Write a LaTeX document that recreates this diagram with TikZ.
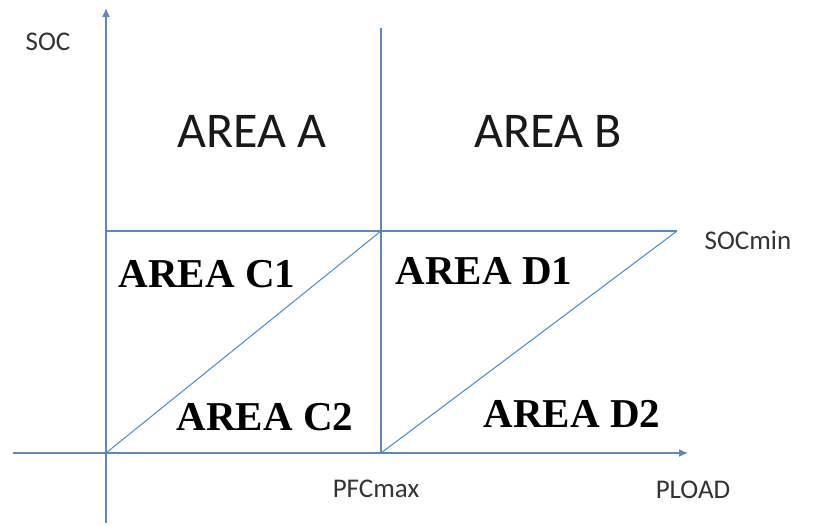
\documentclass[tikz,border=0pt]{standalone}
\usepackage{fontspec}
\setmainfont{Liberation Serif}
\newfontfamily\lblfont{Carlito}
\usetikzlibrary{arrows.meta}
\definecolor{axisblue}{RGB}{95,135,190}
\definecolor{diagblue}{RGB}{70,140,210}
\tikzset{
  axisline/.style={draw=axisblue, line width=1.5pt},
  diagline/.style={draw=diagblue, line width=1pt},
  axtip/.style={-{Latex[length=9pt,width=8pt]}},
  small/.style={font=\lblfont\fontsize{27}{27}\selectfont, text=black!80, inner sep=0pt},
  big/.style={font=\lblfont\fontsize{50}{50}\selectfont, text=black!90, inner sep=0pt},
  areabold/.style={font=\fontsize{41}{41}\selectfont\bfseries, text=black, inner sep=0pt}
}
\begin{document}
\begin{tikzpicture}[x=1pt,y=1pt]
\useasboundingbox (0,0) rectangle (818,525);
\coordinate (O) at (106,72);
\coordinate (ybot) at (106,2);
\coordinate (ytop) at (106,517);
\coordinate (xleft) at (13,72);
\coordinate (xright) at (688,72);
\coordinate (mbot) at (381,72);
\coordinate (mtop) at (381,497);
\coordinate (sl) at (106,294);
\coordinate (mid) at (381,294);
\coordinate (sr) at (677,294);
% axes
\draw[axisline,axtip] (ybot) -- (ytop);
\draw[axisline,axtip] (xleft) -- (xright);
\draw[axisline] (mbot) -- (mtop);
\draw[axisline] (sl) -- (sr);
% diagonals
\draw[diagline] (O) -- (mid);
\draw[diagline] (mbot) -- (sr);
% labels
\node[small] (soc) at (48,483) {SOC};
\node[small] (socmin) at (748,285) {SOCmin};
\node[small] (pfc) at (376,36) {PFCmax};
\node[small] (pload) at (693,35) {PLOAD};
\node[big] (aa) at (252,394) {AREA A};
\node[big] (ab) at (548,394) {AREA B};
\node[areabold] (c1) at (207,251) {AREA C1};
\node[areabold] (c2) at (265,108) {AREA C2};
\node[areabold] (d1) at (484,254) {AREA D1};
\node[areabold] (d2) at (572,111) {AREA D2};
\end{tikzpicture}
\end{document}
